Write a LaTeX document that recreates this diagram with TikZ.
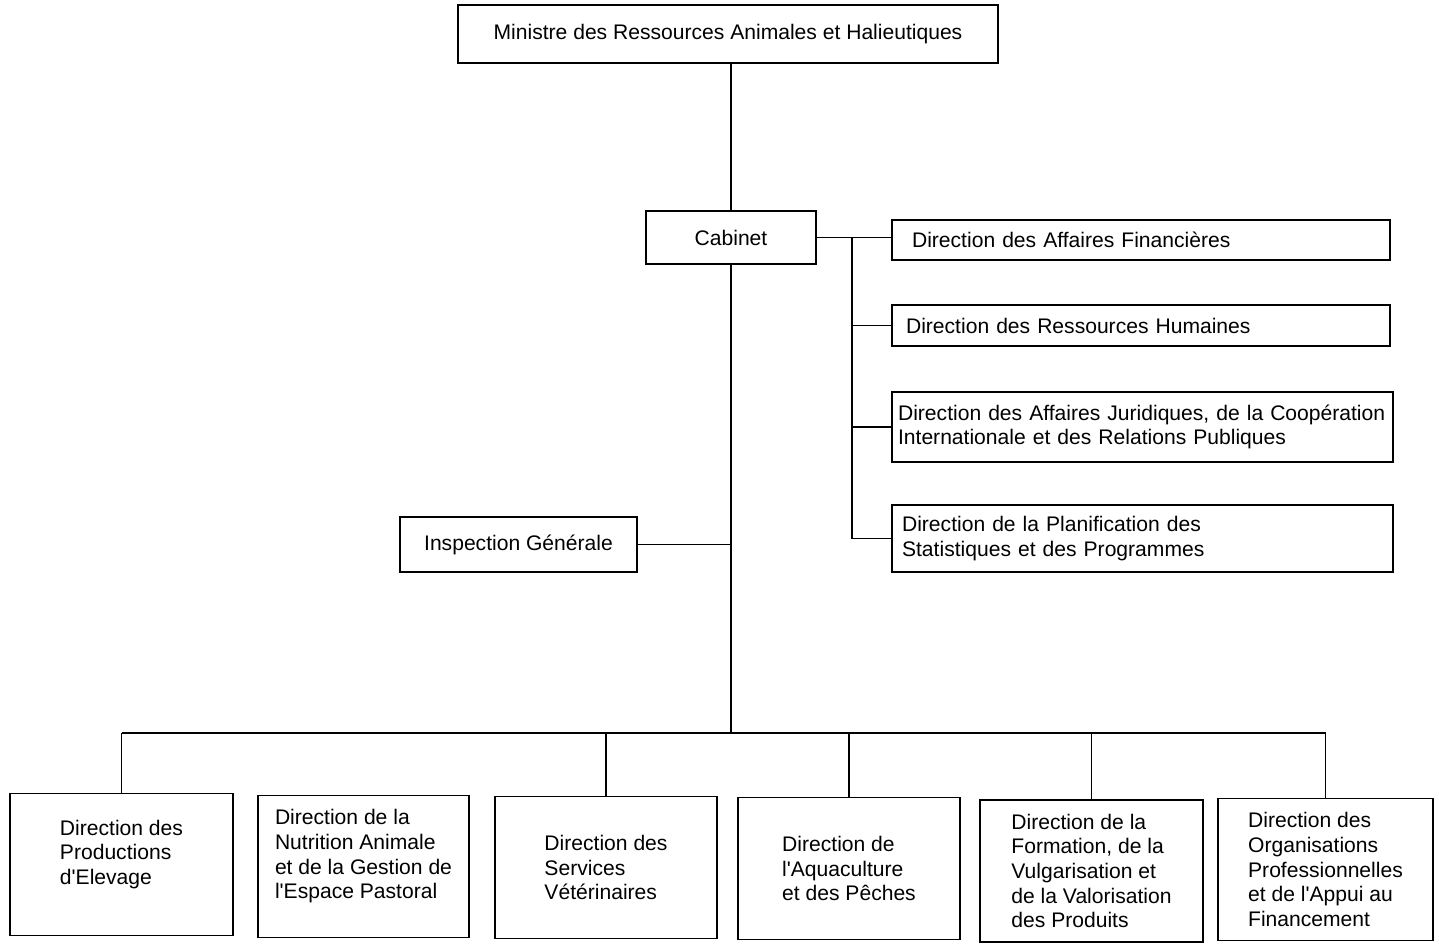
\documentclass[tikz,border=0pt]{standalone}
\usepackage{fontspec}
\setmainfont{Liberation Sans}[Ligatures=TeXOff]
\begin{document}
\begin{tikzpicture}[x=0.02cm, y=-0.02cm, draw=black, line width=0.9pt, font=\fontsize{12}{14}\selectfont]
    \tikzstyle{every node}=[draw, inner sep=0pt, align=left];
    \tikzstyle{bottombox}=[minimum height=2.84cm];

    \useasboundingbox (0,0) rectangle (1439,946);

    \node (minister) [minimum width=10.8cm, minimum height=1.16cm] at (728,34) {Ministre des Ressources Animales et Halieutiques};
    \node (cabinet) [minimum width=3.4cm, minimum height=1.06cm] at (731,237.5) {Cabinet};
    \node (insp) [minimum width=4.74cm, minimum height=1.1cm] at (518.5,544.5) {Inspection Générale};

    \node (daf) [text width=9.16cm, inner xsep=0.4cm, minimum height=0.8cm] at (1141,240) {Direction des Affaires Financières};
    \node (drh) [text width=9.4cm, inner xsep=0.28cm, minimum height=0.82cm] at (1141,325.5) {Direction des Ressources Humaines};
    \node (daj) [text width=9.78cm, inner xsep=0.12cm, minimum height=1.4cm] at (1142.5,427) {Direction des Affaires Juridiques, de la Coopération\\Internationale et des Relations Publiques};
    \node (dpsp) [text width=9.62cm, inner xsep=0.2cm, minimum height=1.34cm] at (1142.5,538.5) {Direction de la Planification des\\Statistiques et des Programmes};

    \node (b1) [bottombox, minimum width=4.46cm] at (121.5,864.5) {Direction des\\Productions\\d'Elevage\\};
    \node (b2) [bottombox, minimum width=4.22cm] at (363.5,866.5) {Direction de la\\Nutrition Animale\\et de la Gestion de\\l'Espace Pastoral\\};
    \node (b3) [bottombox, minimum width=4.44cm] at (606,867.5) {Direction des\\Services\\Vétérinaires};
    \node (b4) [bottombox, minimum width=4.44cm] at (849,868.5) {Direction de\\l'Aquaculture\\et des Pêches};
    \node (b5) [bottombox, minimum width=4.46cm] at (1091.5,871) {Direction de la\\Formation, de la\\Vulgarisation et\\de la Valorisation\\des Produits};
    \node (b6) [bottombox, minimum width=4.3cm] at (1325.5,869.5) {Direction des\\Organisations\\Professionnelles\\et de l'Appui au\\Financement};

    \coordinate (bus) at (731,733);
    \coordinate (spine) at (852,0);

    \draw (cabinet.north) -- (cabinet.north |- minister.south);
    \draw (cabinet.south) -- (bus);
    \draw (insp.east) -- (insp.east -| cabinet.south);

    \draw (cabinet.east) -- (cabinet.east -| daf.west);
    \draw (cabinet.east -| spine) |- (dpsp.west);
    \foreach \d in {drh,daj}
        \draw (\d.west -| spine) -- (\d.west);

    \draw (b1.north |- bus) -- (b6.north |- bus);
    \foreach \b in {b1,b3,b4,b5,b6}
        \draw (\b.north) -- (\b.north |- bus);
\end{tikzpicture}
\end{document}
